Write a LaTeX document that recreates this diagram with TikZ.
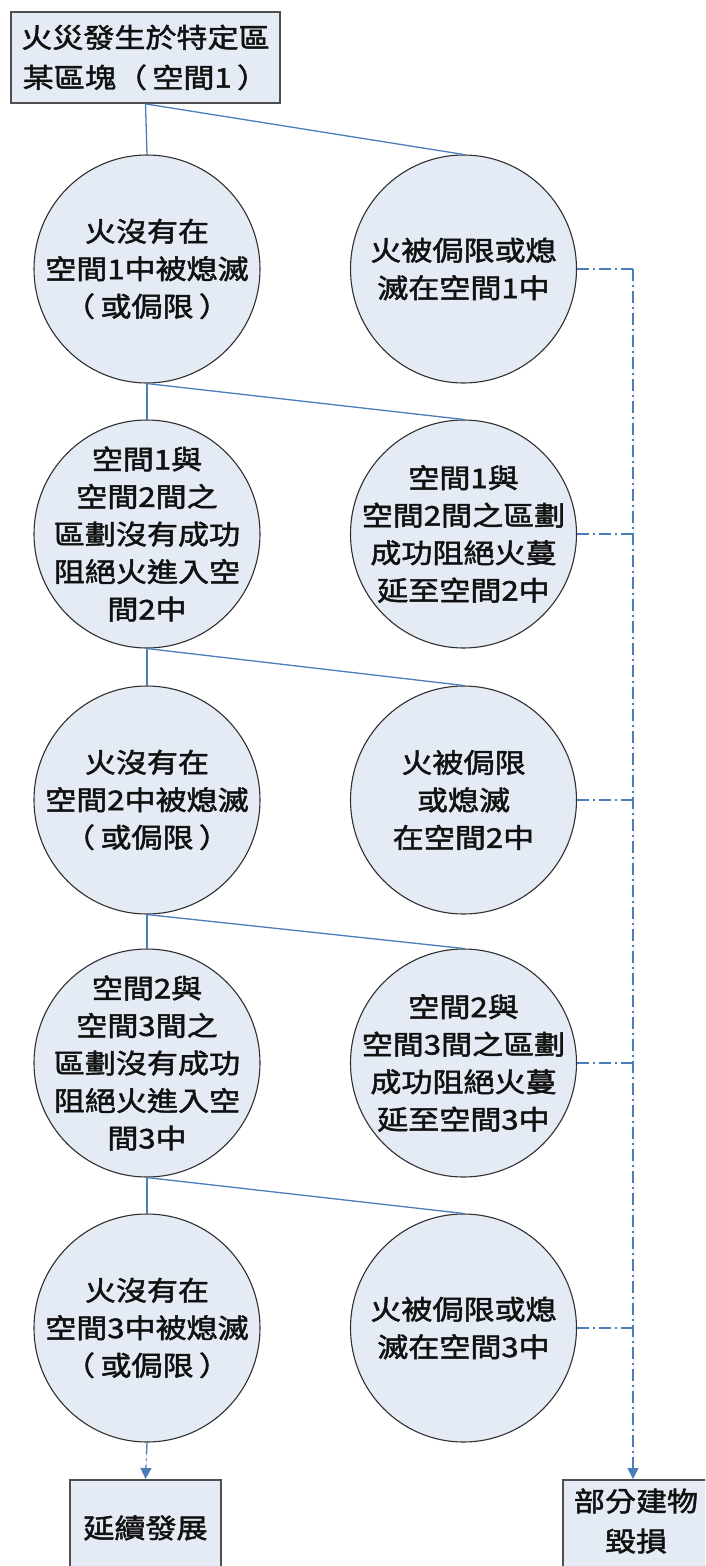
\documentclass[tikz,border=0pt]{standalone}
\usepackage{fontspec}
\newfontfamily\cjk[FakeStretch=1.15,FakeBold=1.8]{Noto Sans CJK TC}
\usetikzlibrary{shapes.geometric,arrows.meta}
\definecolor{fillc}{HTML}{E4EBF5}
\definecolor{linec}{HTML}{4A7EBB}
\definecolor{edgec}{HTML}{303030}
\definecolor{textc}{HTML}{111111}
\newcommand{\lp}{（\hspace{0.2em}}
\newcommand{\rp}{\hspace{0.2em}）}
\tikzset{
  ell/.style={ellipse, draw=edgec, line width=1.1pt, fill=fillc, minimum width=226pt, minimum height=228pt, inner sep=0pt},
  txt/.style={inner sep=0pt, align=center, text=textc, font=\cjk\fontsize{27}{37.5}\selectfont},
  boxn/.style={rectangle, draw=edgec!85, line width=1.8pt, fill=fillc, inner sep=0pt, align=center, text=textc, font=\cjk\fontsize{27}{40}\selectfont},
  solidln/.style={draw=linec, line width=1.3pt},
  dashln/.style={draw=linec, line width=1.3pt, dash pattern=on 12pt off 4pt on 2pt off 4pt},
  tip/.style={-{Triangle[width=11pt,length=11pt]}}
}
\begin{document}
\begin{tikzpicture}[x=1pt,y=-1pt]
\useasboundingbox (0,0) rectangle (705,1566);
\fill[white] (0,0) rectangle (705,1566);
\clip (0,0) rectangle (705,1566);

\node[boxn, minimum width=269pt, minimum height=91pt] (top) at (145.5,57.5) {火災發生於特定區\\某區塊\lp 空間1\rp};

\node[ell] (L1) at (147,269) {};
\node[ell] (R1) at (463.5,269) {};
\node[ell] (L2) at (147,534) {};
\node[ell] (R2) at (463.5,534) {};
\node[ell] (L3) at (147,800) {};
\node[ell] (R3) at (463.5,800) {};
\node[ell] (L4) at (147,1063) {};
\node[ell] (R4) at (463.5,1063) {};
\node[ell] (L5) at (147,1328) {};
\node[ell] (R5) at (463.5,1328) {};

\node[txt] (L1t) at (L1) {火沒有在\\空間1中被熄滅\\\lp 或侷限\rp};
\node[txt] (R1t) at (R1) {火被侷限或熄\\滅在空間1中};
\node[txt] (L2t) at (L2) {空間1與\\空間2間之\\區劃沒有成功\\阻絕火進入空\\間2中};
\node[txt] (R2t) at (R2) {空間1與\\空間2間之區劃\\成功阻絕火蔓\\延至空間2中};
\node[txt] (L3t) at (L3) {火沒有在\\空間2中被熄滅\\\lp 或侷限\rp};
\node[txt] (R3t) at (R3) {火被侷限\\或熄滅\\在空間2中};
\node[txt] (L4t) at (L4) {空間2與\\空間3間之\\區劃沒有成功\\阻絕火進入空\\間3中};
\node[txt] (R4t) at (R4) {空間2與\\空間3間之區劃\\成功阻絕火蔓\\延至空間3中};
\node[txt] (L5t) at (L5) {火沒有在\\空間3中被熄滅\\\lp 或侷限\rp};
\node[txt] (R5t) at (R5) {火被侷限或熄\\滅在空間3中};

\node[boxn, minimum width=151pt, minimum height=96pt, anchor=north] (B1) at (145.5,1479) {延續發展};
\node[boxn, minimum width=146pt, minimum height=100pt, text depth=20pt, anchor=north] (B2) at (636,1479) {部分建物\\毀損};

\coordinate (vtop) at (633,269);

% solid tree connectors
\draw[solidln] (top.south) -- (L1.north);
\draw[solidln] (top.south) -- (R1.north);
\draw[solidln] (L1.south) -- (L2.north);
\draw[solidln] (L1.south) -- (R2.north);
\draw[solidln] (L2.south) -- (L3.north);
\draw[solidln] (L2.south) -- (R3.north);
\draw[solidln] (L3.south) -- (L4.north);
\draw[solidln] (L3.south) -- (R4.north);
\draw[solidln] (L4.south) -- (L5.north);
\draw[solidln] (L4.south) -- (R5.north);

% dash-dot connectors
\draw[dashln] (R1.east) -- (vtop);
\draw[dashln] (R2.east) -- (R2.east -| vtop);
\draw[dashln] (R3.east) -- (R3.east -| vtop);
\draw[dashln] (R4.east) -- (R4.east -| vtop);
\draw[dashln] (R5.east) -- (R5.east -| vtop);
\draw[dashln, tip, fill=linec] (vtop) -- (vtop |- B2.north);
\draw[dashln, tip, fill=linec] (L5.south) -- (B1.north);
\end{tikzpicture}
\end{document}
